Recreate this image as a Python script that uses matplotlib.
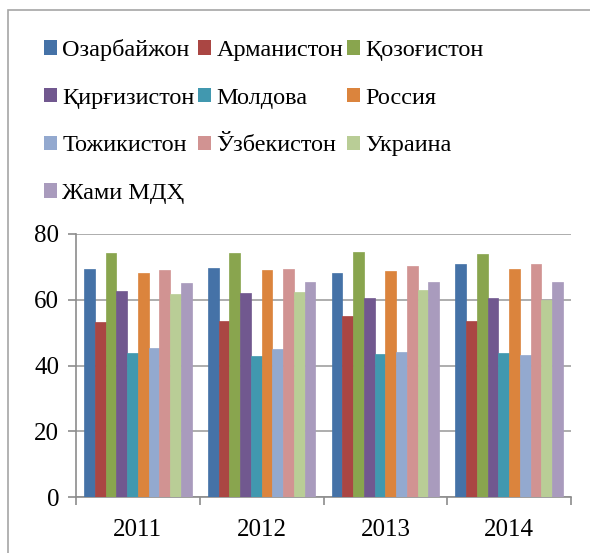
# Grafico de barras agrupadas por anio para paises de la CEI

import numpy as np
import matplotlib.pyplot as plt
from matplotlib.patches import Rectangle, Patch

# datos
Anios = ["2011", "2012", "2013", "2014"]

Paises = [
    "Озарбайжон", "Арманистон", "Қозоғистон",
    "Қирғизистон", "Молдова", "Россия",
    "Тожикистон", "Ўзбекистон", "Украина",
    "Жами МДҲ"
]

Ozarbayjon = [69.5, 69.8, 68.2, 70.9]
Armaniston = [53.3, 53.6, 55.1, 53.6]
Qozogiston = [74.1, 74.3, 74.4, 73.8]
Qirgiziston = [62.6, 62.0, 60.4, 60.5]
Moldova = [43.8, 42.8, 43.6, 43.8]
Rossiya = [68.1, 69.0, 68.8, 69.3]
Tojikiston = [45.3, 44.9, 44.0, 43.1]
Uzbekiston = [69.0, 69.5, 70.3, 70.9]
Ukraina = [61.8, 62.5, 62.9, 59.8]
Jami_MDH = [65.0, 65.5, 65.4, 65.4]

Valores = [
    Ozarbayjon, Armaniston, Qozogiston, Qirgiziston, Moldova,
    Rossiya, Tojikiston, Uzbekiston, Ukraina, Jami_MDH
]

Colores = [
    "#4572A7", "#AA4643", "#89A54E", "#71588F", "#4198AF",
    "#DB843D", "#93A9CF", "#D19392", "#B9CD96", "#A99BBD"
]

plt.rcParams["font.family"] = ["Liberation Serif", "DejaVu Serif"]

fig = plt.figure(figsize=(5.9, 5.53), dpi=100)

# marco del grafico
fig.patches.append(Rectangle(
    (8 / 590, -0.1), 1.2, 1 - 10 / 553 + 0.1,
    transform=fig.transFigure, fill=False,
    edgecolor="#A6A6A6", linewidth=1.2
))

ax = fig.add_axes([76 / 590, 1 - 497 / 553, 495 / 590, 263 / 553])

x = np.arange(len(Anios))
Ancho = 0.087
n = len(Paises)

for i in range(n):
    ax.bar(
        x + (i - (n - 1) / 2) * Ancho,
        Valores[i],
        width=Ancho,
        color=Colores[i],
        edgecolor=Colores[i],
        linewidth=0.5,
        zorder=3
    )

# ejes
ax.set_xlim(-0.5, len(Anios) - 0.5)
ax.set_ylim(0, 80)
ax.set_yticks([0, 20, 40, 60, 80])
ax.grid(axis="y", color="#A0A0A0", linewidth=1.2, zorder=0)

ax.set_xticks(np.arange(len(Anios) + 1) - 0.5)
ax.set_xticklabels([])
ax.set_xticks(x, minor=True)
ax.set_xticklabels(Anios, minor=True)

ax.tick_params(axis="x", which="major", length=6, color="#8C8C8C", width=1.2)
ax.tick_params(axis="x", which="minor", length=0, pad=16, labelsize=18)
ax.tick_params(axis="y", length=6, color="#8C8C8C", width=1.2, pad=6, labelsize=18)

for Lado in ["top", "right"]:
    ax.spines[Lado].set_visible(False)
for Lado in ["left", "bottom"]:
    ax.spines[Lado].set_color("#8C8C8C")
    ax.spines[Lado].set_linewidth(1.2)

# leyenda (orden por filas)
Manijas = [Patch(facecolor=Colores[i], linewidth=0) for i in range(n)]
Orden = [0, 3, 6, 9, 1, 4, 7, 2, 5, 8]
fig.legend(
    [Manijas[i] for i in Orden],
    [Paises[i] for i in Orden],
    ncol=3,
    loc="upper left",
    bbox_to_anchor=(44 / 590, 1 - 39 / 553),
    frameon=False,
    fontsize=17.5,
    handlelength=0.55,
    handleheight=0.55,
    handletextpad=0.2,
    columnspacing=0.15,
    labelspacing=1.1,
    borderaxespad=0,
    borderpad=0
)

plt.savefig("out.png", dpi=100)
